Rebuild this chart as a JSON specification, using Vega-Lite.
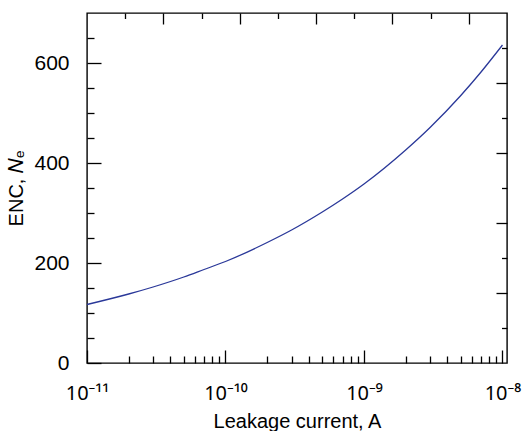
{
  "$schema": "https://vega.github.io/schema/vega-lite/v6.json",
  "width": 420,
  "height": 350,
  "autosize": "none",
  "padding": {"left": 87, "top": 13, "right": 15, "bottom": 68},
  "background": "white",
  "config": {
    "view": {"stroke": "#000", "strokeWidth": 1.4},
    "axis": {
      "domain": false,
      "grid": false,
      "tickColor": "#000",
      "tickWidth": 1.3,
      "labelFont": "Liberation Sans",
      "labelFontSize": 21,
      "labelColor": "#000",
      "titleFont": "Liberation Sans",
      "titleFontSize": 20,
      "titleFontWeight": "normal",
      "titleColor": "#000",
      "labelFlush": false,
      "labelOverlap": false
    }
  },
  "data": {
    "values": [
      {"current": 1e-11, "enc": 117},
      {"current": 2e-11, "enc": 138},
      {"current": 3e-11, "enc": 152},
      {"current": 5e-11, "enc": 172},
      {"current": 7e-11, "enc": 187},
      {"current": 1e-10, "enc": 203},
      {"current": 2e-10, "enc": 241},
      {"current": 3e-10, "enc": 266},
      {"current": 5e-10, "enc": 302},
      {"current": 7e-10, "enc": 328},
      {"current": 1e-9, "enc": 358},
      {"current": 2e-9, "enc": 426},
      {"current": 3e-9, "enc": 471},
      {"current": 5e-9, "enc": 535},
      {"current": 7e-9, "enc": 582},
      {"current": 1e-8, "enc": 636}
    ]
  },
  "resolve": {"scale": {"x": "independent"}, "axis": {"y": "independent"}},
  "layer": [
    {
      "mark": {"type": "line", "color": "#2a3899", "strokeWidth": 1.3, "interpolate": "monotone"},
      "encoding": {
        "x": {
          "field": "current", "type": "quantitative",
          "scale": {"type": "log", "domain": [1e-11, 1.078e-8], "nice": false},
          "axis": {
            "orient": "bottom",
            "values": [1e-11, 1e-10, 1e-9, 1e-8],
            "tickSize": -13,
            "labelPadding": 33,
            "labelFont": "Noto Sans",
            "labelFontSize": 20,
            "labelExpr": "round(log(datum.value)/LN10) == -11 ? '10⁻¹¹' : round(log(datum.value)/LN10) == -10 ? '10⁻¹⁰' : round(log(datum.value)/LN10) == -9 ? '10⁻⁹' : '10⁻⁸'",
            "title": "Leakage current, A",
            "titlePadding": 8
          }
        },
        "y": {
          "field": "enc", "type": "quantitative",
          "scale": {"domain": [0, 700], "nice": false},
          "axis": {
            "orient": "left",
            "values": [0, 200, 400, 600],
            "tickSize": -14,
            "labelPadding": 32,
            "title": "ENC, 𝑁ₑ",
            "titlePadding": 7
          }
        }
      }
    },
    {
      "mark": {"type": "point", "opacity": 0},
      "encoding": {
        "x": {
          "field": "current", "type": "quantitative",
          "scale": {"type": "log", "domain": [1e-11, 1.078e-8], "nice": false},
          "axis": {
            "orient": "bottom",
            "values": [2e-11, 3e-11, 4e-11, 5e-11, 6e-11, 7e-11, 8e-11, 9e-11, 2e-10, 3e-10, 4e-10, 5e-10, 6e-10, 7e-10, 8e-10, 9e-10, 2e-9, 3e-9, 4e-9, 5e-9, 6e-9, 7e-9, 8e-9, 9e-9],
            "tickSize": -7,
            "labels": false,
            "title": null
          }
        },
        "y": {
          "field": "enc", "type": "quantitative",
          "scale": {"domain": [0, 700], "nice": false},
          "axis": {
            "orient": "left",
            "values": [50, 100, 150, 250, 300, 350, 450, 500, 550, 650],
            "tickSize": -7,
            "labels": false,
            "title": null
          }
        }
      }
    },
    {
      "mark": {"type": "point", "opacity": 0},
      "encoding": {
        "x": {
          "field": "current", "type": "quantitative",
          "scale": {"type": "linear", "domain": [0, 1.1e-8], "nice": false, "zero": true},
          "axis": {
            "orient": "top",
            "values": [2e-9, 4e-9, 6e-9, 8e-9, 1e-8],
            "tickSize": -11,
            "labels": false,
            "title": null
          }
        },
        "y": {
          "field": "enc", "type": "quantitative",
          "scale": {"domain": [0, 700], "nice": false},
          "axis": {
            "orient": "right",
            "values": [140, 280, 420, 560],
            "tickSize": -11,
            "labels": false,
            "title": null
          }
        }
      }
    },
    {
      "mark": {"type": "point", "opacity": 0},
      "encoding": {
        "x": {
          "field": "current", "type": "quantitative",
          "scale": {"type": "linear", "domain": [0, 1.1e-8], "nice": false, "zero": true},
          "axis": {
            "orient": "top",
            "values": [1e-9, 3e-9, 5e-9, 7e-9, 9e-9],
            "tickSize": -5.5,
            "labels": false,
            "title": null
          }
        },
        "y": {
          "field": "enc", "type": "quantitative",
          "scale": {"domain": [0, 700], "nice": false},
          "axis": {
            "orient": "right",
            "values": [70, 210, 350, 490, 630],
            "tickSize": -5.5,
            "labels": false,
            "title": null
          }
        }
      }
    }
  ]
}
